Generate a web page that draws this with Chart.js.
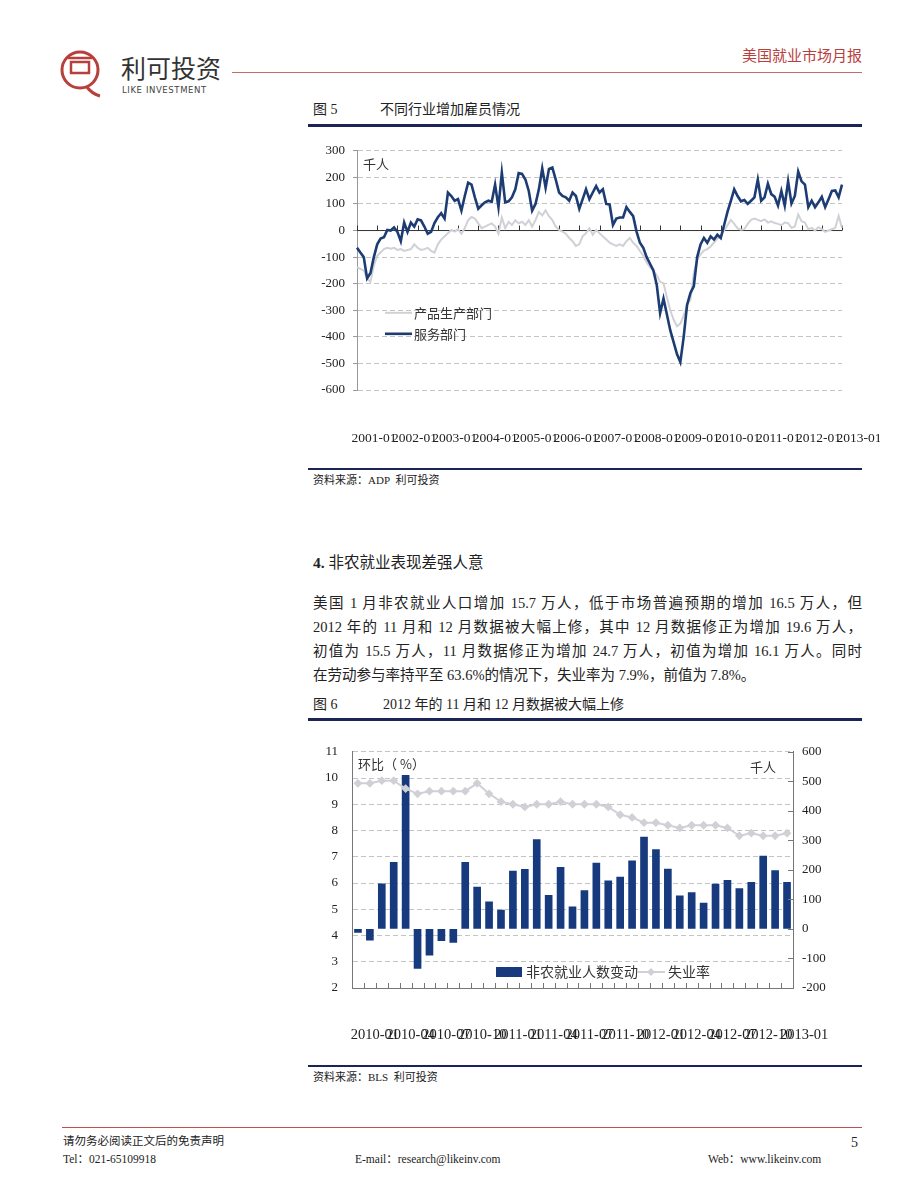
<!DOCTYPE html>
<html>
<head>
<meta charset="utf-8">
<script src="https://cdn.jsdelivr.net/npm/chart.js@4"></script>
<style>
  body { margin: 0; background: #fff; }
  #page { position: relative; width: 920px; height: 1191px; background: #fff;
    font-family: 'Liberation Serif', 'Noto Sans CJK SC', serif; color: #222; overflow: hidden; }
  .t { position: absolute; white-space: nowrap; line-height: 1; }
  .rule { position: absolute; left: 308px; width: 554px; background: #1c2457; }
  .para { position: absolute; left: 313px; width: 549px; font-size: 14.5px; line-height: 24px; }
  .para div { text-align: justify; text-align-last: justify; height: 24px; }
  .para div.last { text-align-last: left; }
  canvas { position: absolute; }
</style>
</head>
<body>
<div id="page">
  <!-- header -->
  <svg style="position:absolute;left:58px;top:40px" width="50" height="64" viewBox="0 0 50 64">
    <circle cx="22" cy="30" r="18" fill="none" stroke="#b8403c" stroke-width="3"/>
    <rect x="13" y="22" width="18" height="11" fill="none" stroke="#b8403c" stroke-width="2.5"/>
    <line x1="10" y1="18" x2="34" y2="18" stroke="#b8403c" stroke-width="2.5"/>
    <path d="M28 46 Q34 54 42 56" fill="none" stroke="#b8403c" stroke-width="3"/>
  </svg>
  <div class="t" style="left:121px;top:55px;font-size:25px;color:#333;font-family:'Noto Sans CJK SC';">利可投资</div>
  <div class="t" style="left:122px;top:86px;font-size:8.5px;letter-spacing:0.6px;color:#444;font-family:'DejaVu Sans';">LIKE INVESTMENT</div>
  <div style="position:absolute;left:232px;top:72px;width:630px;height:1px;background:#c86a66;"></div>
  <div class="t" style="right:58px;top:47px;font-size:15px;color:#b8403c;font-family:'Noto Sans CJK SC';">美国就业市场月报</div>

  <!-- figure 5 -->
  <div class="t" style="left:313px;top:103px;font-size:14px;">图 5</div>
  <div class="t" style="left:380px;top:103px;font-size:14px;">不同行业增加雇员情况</div>
  <div class="rule" style="top:124px;height:3px;"></div>
  <canvas id="c1" width="580" height="320" style="left:300px;top:135px;"></canvas>
  <div class="rule" style="top:468px;height:2px;"></div>
  <div class="t" style="left:313px;top:475px;font-size:11px;">资料来源：ADP&nbsp; 利可投资</div>

  <!-- section 4 -->
  <div class="t" style="left:313px;top:555px;font-size:15.5px;"><b>4.</b> 非农就业表现差强人意</div>
  <div class="para" style="top:591px;">
    <div>美国 1 月非农就业人口增加 15.7 万人，低于市场普遍预期的增加 16.5 万人，但</div>
    <div>2012 年的 11 月和 12 月数据被大幅上修，其中 12 月数据修正为增加 19.6 万人，</div>
    <div>初值为 15.5 万人，11 月数据修正为增加 24.7 万人，初值为增加 16.1 万人。同时</div>
    <div class="last">在劳动参与率持平至 63.6%的情况下，失业率为 7.9%，前值为 7.8%。</div>
  </div>

  <!-- figure 6 -->
  <div class="t" style="left:313px;top:698px;font-size:14px;">图 6</div>
  <div class="t" style="left:383px;top:698px;font-size:14px;">2012 年的 11 月和 12 月数据被大幅上修</div>
  <div class="rule" style="top:718px;height:3px;"></div>
  <canvas id="c2" width="580" height="320" style="left:300px;top:730px;"></canvas>
  <div class="rule" style="top:1065px;height:2px;"></div>
  <div class="t" style="left:313px;top:1072px;font-size:11px;">资料来源：BLS&nbsp; 利可投资</div>

  <!-- footer -->
  <div style="position:absolute;left:62px;top:1127px;width:800px;height:1px;background:#c0504d;"></div>
  <div class="t" style="left:63px;top:1136px;font-size:11.5px;">请勿务必阅读正文后的免责声明</div>
  <div class="t" style="left:851px;top:1136px;font-size:14px;">5</div>
  <div class="t" style="left:63px;top:1154px;font-size:11.5px;">Tel：021-65109918</div>
  <div class="t" style="left:355px;top:1154px;font-size:11.5px;">E-mail：research@likeinv.com</div>
  <div class="t" style="left:708px;top:1154px;font-size:11.5px;">Web：www.likeinv.com</div>
</div>

<script>
// ---- data: figure 5 (ADP, thousand persons, monthly 2001-01 .. 2013-01)
const months1 = [];
for (let y = 2001; y <= 2013; y++) {
  for (let m = 1; m <= 12; m++) {
    if (y === 2013 && m > 1) break;
    months1.push(`${y}-${String(m).padStart(2, '0')}`);
  }
}
const services = [-65,-83,-100,-180,-160,-100,-52,-30,-25,2, 0,12,-5,-40,30,-5,30,15,42,38,
  15,-12,-5,28,50,65,45,143,130,112, 118,75,130,180,173,125,82,95,106,112,
  108,173,88,218,106,110,125,155,216,213, 192,149,75,100,155,234,161,232,237,192,
  143,130,125,112,143,130,82,118,155,118, 143,167,143,155,100,98,21,45,49,49,
  88,70,54,-4,-46,-65,-100,-125,-150,-205, -311,-256,-315,-375,-420,-465,-495,-400,-280,-235,
  -210,-100,-52,-28,-46,-22,-34,-16,-28,21, 70,112,155,130,110,115,100,112,125,192,
  112,125,176,137,127,94,149,94,185,102, 130,222,185,173,88,112,88,106,127,88,
  118,149,151,125,173];
const goods = [-138,-144,-150,-180,-193,-132,-95,-83,-70,-65, -68,-65,-73,-70,-77,-73,-70,-52,-65,-73,
  -70,-65,-77,-83,-52,-34,-22,-10,2,-4, 5,-12,9,39,51,45,27,9,15,21,
  27,15,-12,49,9,33,21,39,27,33, 21,39,15,39,70,57,76,54,39,15,
  2,-4,-12,-28,-40,-58,-52,-22,-10,9, -16,2,-10,-22,-34,-46,-52,-58,-52,-58,
  -40,-28,-46,-58,-77,-95,-120,-138,-150,-168, -193,-198,-250,-300,-335,-360,-350,-320,-280,-260,
  -160,-110,-90,-75,-70,-60,-45,-30,-20,0, 20,40,25,8,3,5,25,40,45,40,
  35,42,30,35,28,25,20,30,28,10, 15,60,35,30,5,10,0,12,5,-5,
  0,5,10,55,10];
const yTicks1 = { min: -600, max: 300, step: 100 };

// ---- data: figure 6 (BLS, monthly 2010-01 .. 2013-01)
const months2 = [];
for (let y = 2010; y <= 2013; y++) {
  for (let m = 1; m <= 12; m++) {
    if (y === 2013 && m > 1) break;
    months2.push(`${y}-${String(m).padStart(2, '0')}`);
  }
}
const payrolls = [-12,-38,153,226,520,-134,-89,-40,-46,226, 142,92,64,196,202,303,114,209,75,130,
  223,163,176,231,311,269,203,112,123,88, 152,165,137,158,247,198,158];
const unemployment = [9.8,9.8,9.9,9.9,9.6,9.4,9.5,9.5,9.5,9.5, 9.8,9.4,9.1,9.0,8.9,9.0,9.0,9.1,9.0,9.0,
  9.0,8.9,8.6,8.5,8.3,8.3,8.2,8.1,8.2,8.2, 8.2,8.1,7.8,7.9,7.8,7.8,7.9];
const leftTicks2 = { min: 2, max: 11, step: 1 };
const rightTicks2 = { min: -200, max: 600, step: 100 };

const SERIF = "'Liberation Serif', serif";
const CJK = "'Noto Sans CJK SC', sans-serif";
const NAVY = '#1d3c73';
const BAR = '#163a7d';
const LIGHT = '#cfd1d6';
const GRID = '#c4c4c4';
const tickFont = { family: SERIF, size: 13.5 };

// zero line, axis ticks and in-chart texts for figure 5
const fig5Extras = {
  id: 'fig5Extras',
  beforeDatasetsDraw(chart) {
    const { ctx, chartArea, scales } = chart;
    const y0 = scales.y.getPixelForValue(0);
    ctx.save();
    ctx.strokeStyle = '#333';
    ctx.lineWidth = 1;
    ctx.beginPath();
    ctx.moveTo(chartArea.left, y0);
    ctx.lineTo(chartArea.right, y0);
    for (let i = 0; i < months1.length; i += 6) {
      const x = Math.round(scales.x.getPixelForValue(i)) + 0.5;
      ctx.moveTo(x, y0);
      ctx.lineTo(x, y0 - 5);
    }
    ctx.stroke();
    ctx.restore();
  },
  afterDraw(chart) {
    const { ctx, chartArea } = chart;
    ctx.save();
    ctx.fillStyle = '#333';
    ctx.font = `13px ${CJK}`;
    ctx.textBaseline = 'middle';
    ctx.fillText('千人', chartArea.left + 6, chartArea.top + 13);
    // legend, in the reference's order
    const items = chart.data.datasets.slice().reverse();
    items.forEach((ds, k) => {
      const ly = chartArea.top + 162 + k * 21;
      ctx.strokeStyle = ds.borderColor;
      ctx.lineWidth = ds.borderWidth;
      ctx.beginPath();
      ctx.moveTo(chartArea.left + 28, ly);
      ctx.lineTo(chartArea.left + 55, ly);
      ctx.stroke();
      ctx.fillStyle = '#333';
      ctx.fillText(ds.label, chartArea.left + 57, ly);
    });
    ctx.restore();
  }
};

new Chart(document.getElementById('c1'), {
  type: 'line',
  data: {
    labels: months1,
    datasets: [
      { label: '服务部门', data: services, borderColor: NAVY, borderWidth: 2.6, pointRadius: 0, tension: 0 },
      { label: '产品生产部门', data: goods, borderColor: LIGHT, borderWidth: 2, pointRadius: 0, tension: 0 },
    ],
  },
  options: {
    responsive: false,
    animation: false,
    layout: { padding: { top: 11, right: 38, left: 0, bottom: 0 } },
    plugins: { legend: { display: false }, tooltip: { enabled: false } },
    scales: {
      x: {
        // long invisible ticks push the labels down without widening the side padding
        grid: { drawOnChartArea: false, drawTicks: true, tickLength: 36, tickColor: 'rgba(0,0,0,0)' },
        border: { display: false },
        ticks: {
          autoSkip: false, maxRotation: 0, minRotation: 0, padding: 4, labelOffset: 17,
          font: tickFont, color: '#222',
          callback: (v, i) => (i % 12 === 0 ? months1[i] : ''),
        },
        afterFit: (s) => { s.height = 65; },
      },
      y: {
        min: yTicks1.min, max: yTicks1.max,
        ticks: { stepSize: yTicks1.step, padding: 8, font: { family: SERIF, size: 13 }, color: '#222' },
        grid: { color: GRID, tickColor: '#999', tickLength: 4 },
        border: { color: '#999', dash: [5, 3] },
        afterFit: (s) => { s.width = 57; },
      },
    },
  },
  plugins: [fig5Extras],
});

// axis ticks, texts and legend for figure 6
const fig6Extras = {
  id: 'fig6Extras',
  afterDraw(chart) {
    const { ctx, chartArea, scales } = chart;
    ctx.save();
    ctx.strokeStyle = '#777';
    ctx.lineWidth = 1;
    ctx.beginPath();
    const step = (scales.x.getPixelForValue(1) - scales.x.getPixelForValue(0));
    for (let i = 0; i <= months2.length; i++) {
      const x = Math.round(scales.x.getPixelForValue(0) - step / 2 + i * step) + 0.5;
      ctx.moveTo(x, chartArea.bottom);
      ctx.lineTo(x, chartArea.bottom - 5);
    }
    for (let v = rightTicks2.min; v <= rightTicks2.max; v += rightTicks2.step) {
      const y = Math.round(scales.yR.getPixelForValue(v)) + 0.5;
      ctx.moveTo(chartArea.right, y);
      ctx.lineTo(chartArea.right - 5, y);
    }
    ctx.stroke();

    ctx.fillStyle = '#333';
    ctx.font = `13px ${CJK}`;
    ctx.textBaseline = 'middle';
    ctx.fillText('环比（ %）', chartArea.left + 6, chartArea.top + 12);
    ctx.textAlign = 'right';
    ctx.fillText('千人', chartArea.right - 17, chartArea.top + 15);

    // legend
    ctx.textAlign = 'left';
    const ly = chartArea.bottom - 16;
    const lx = chartArea.left + 144;
    const bars = chart.data.datasets[1];
    const line = chart.data.datasets[0];
    ctx.fillStyle = bars.backgroundColor;
    ctx.fillRect(lx, ly - 5, 26, 10);
    ctx.fillStyle = '#333';
    ctx.font = `14px ${CJK}`;
    ctx.fillText(bars.label, lx + 30, ly);
    const lx2 = lx + 141;
    ctx.strokeStyle = line.borderColor;
    ctx.lineWidth = 2;
    ctx.beginPath();
    ctx.moveTo(lx2, ly);
    ctx.lineTo(lx2 + 28, ly);
    ctx.stroke();
    ctx.fillStyle = line.borderColor;
    ctx.beginPath();
    ctx.moveTo(lx2 + 14, ly - 4);
    ctx.lineTo(lx2 + 18, ly);
    ctx.lineTo(lx2 + 14, ly + 4);
    ctx.lineTo(lx2 + 10, ly);
    ctx.closePath();
    ctx.fill();
    ctx.fillStyle = '#333';
    ctx.fillText(line.label, lx2 + 31, ly);
    ctx.restore();
  }
};

new Chart(document.getElementById('c2'), {
  type: 'bar',
  data: {
    labels: months2,
    datasets: [
      {
        type: 'line', label: '失业率', data: unemployment, yAxisID: 'yL',
        borderColor: LIGHT, borderWidth: 2, tension: 0,
        pointStyle: 'rectRot', pointRadius: 3, pointBackgroundColor: LIGHT, pointBorderColor: LIGHT,
      },
      {
        type: 'bar', label: '非农就业人数变动', data: payrolls, yAxisID: 'yR',
        backgroundColor: BAR, barThickness: 7,
      },
    ],
  },
  options: {
    responsive: false,
    animation: false,
    layout: { padding: { top: 15, right: 0, left: 0, bottom: 0 } },
    plugins: { legend: { display: false }, tooltip: { enabled: false } },
    scales: {
      x: {
        grid: { display: false },
        border: { color: '#777' },
        ticks: {
          autoSkip: false, maxRotation: 0, minRotation: 0, padding: 30, labelOffset: 17,
          font: { family: SERIF, size: 14.5 }, color: '#222',
          callback: (v, i) => (i % 3 === 0 ? months2[i] : ''),
        },
        afterFit: (s) => { s.height = 62; },
      },
      yL: {
        position: 'left',
        min: leftTicks2.min, max: leftTicks2.max,
        ticks: { stepSize: leftTicks2.step, padding: 14, font: { family: SERIF, size: 13 }, color: '#222' },
        grid: { color: GRID, drawTicks: false },
        border: { color: '#777', dash: [5, 3] },
        afterFit: (s) => { s.width = 52; },
      },
      yR: {
        position: 'right',
        min: rightTicks2.min, max: rightTicks2.max,
        ticks: { stepSize: rightTicks2.step, padding: 9, font: { family: SERIF, size: 13 }, color: '#222' },
        grid: { drawOnChartArea: false, drawTicks: false },
        border: { color: '#777' },
        afterFit: (s) => { s.width = 87; },
      },
    },
  },
  plugins: [fig6Extras],
});
</script>
</body>
</html>
